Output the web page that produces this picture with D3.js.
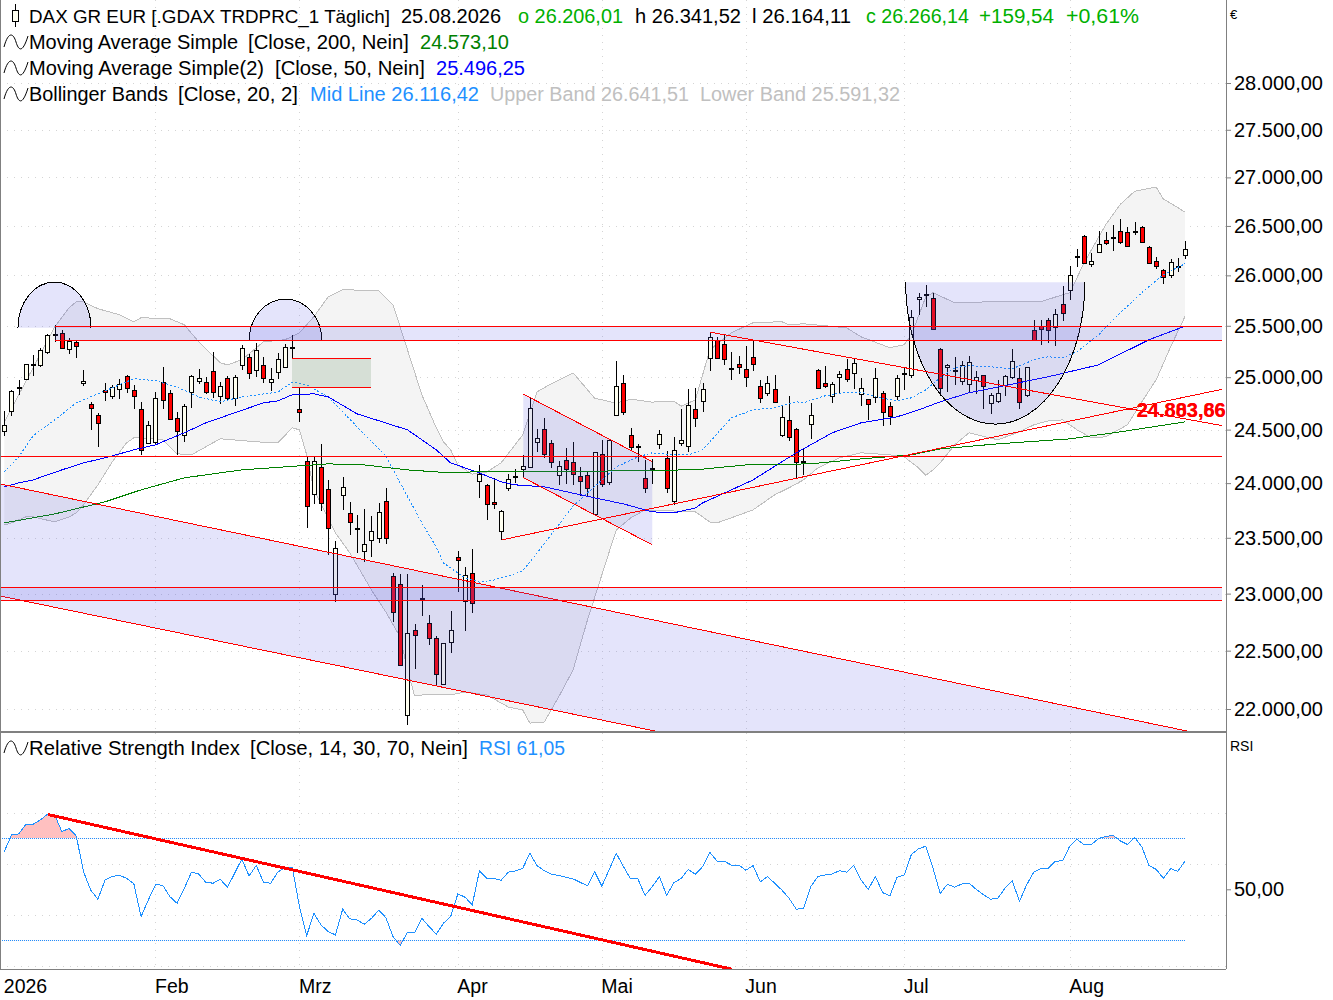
<!DOCTYPE html>
<html><head><meta charset="utf-8">
<script src="https://cdn.jsdelivr.net/npm/d3@7/dist/d3.min.js"></script>
<style>
html,body{margin:0;padding:0;background:#fff}
svg{display:block}
text{font-family:"Liberation Sans",Arial,sans-serif;fill:#000}
</style></head><body><svg id="c" width="1333" height="1000"></svg>
<script>
const opens=[24491,24680,24895,24987,25119,25122,25248,25405,25429,25272,
25340,24943,24742,24637,24876,24815,24886,25007,24876,24694,
24373,24388,24953,24847,24608,24448,24857,24962,24953,25058,
24819,24991,24799,25122,25194,25068,25117,24953,25049,25097,
25282,24694,24204,23898,24148,23944,22994,23889,23724,23577,
23378,23478,23496,23834,23154,23083,21947,22677,22953,22738,
22608,22210,22573,23324,22933,23181,24018,23981,23825,23559,
23954,24055,24130,24148,24382,24505,24373,24074,24213,24195,
24064,24074,23715,24270,24009,24637,24943,24448,24338,24046,
24139,24364,24232,23834,24373,24345,24694,24771,25184,25356,
25321,25084,25126,25078,25194,24914,24847,24886,24448,24589,
24505,24197,24552,25068,24943,24819,25001,25078,25039,24838,
24790,24809,24847,24722,24819,25030,25020,25760,25807,25774,
25272,25097,25068,24962,24934,24972,25020,24751,24771,24924,
25001,24991,24828,25458,25497,25556,25487,25714,25854,26191,
26399,26115,26236,26358,26382,26450,26439,26443,26491,26286,
26145,26054,26004,26091,26206.01];
const highs=[24675,24879,24975,25126,25214,25282,25419,25510,25458,25380,
25350,25071,24761,24656,24943,24924,24985,25020,24924,24764,
24583,24853,25097,24876,24665,24745,25020,25081,25001,25242,
24953,25016,25020,25314,25223,25331,25194,25087,25233,25321,
25409,24895,24241,24241,24364,24027,23469,24055,23825,23706,
23760,23696,23816,23954,23181,23172,23172,22729,23077,22808,
22625,22564,22844,23378,23238,23396,24169,23990,24046,23751,
24083,24130,24260,24799,24505,24608,24404,24204,24329,24382,
24148,24111,24288,24401,24411,25155,25020,24514,24364,24213,
24223,24495,24298,24429,24694,24886,24895,24943,25438,25392,
25405,25242,25204,25306,25356,24972,25010,25020,24732,24819,
24514,24326,24751,25078,25107,24953,25058,25175,25175,24991,
24790,25087,24867,24761,25020,25094,25658,25824,25907,25824,
25282,25129,25194,25155,25204,25058,25020,24847,24972,25020,
25272,25087,25097,25559,25556,25576,25665,25894,26094,26266,
26410,26225,26450,26439,26511,26572,26491,26542,26501,26297,
26185,26064,26165,26175,26341.52];
const lows=[24444,24633,24831,24975,25016,25103,25229,25340,25272,25229,
25187,24911,24501,24341,24767,24793,24786,24844,24699,24263,
24360,24366,24696,24595,24263,24388,24709,24930,24838,24805,
24745,24783,24728,25071,24978,24997,24943,24867,24985,25084,
25181,24573,23592,23812,23748,23342,22924,23757,23529,23366,
23285,23330,23457,23447,22752,22367,21862,22344,22805,22552,
22204,22204,22483,23017,22674,22831,23864,23665,23766,23478,
23932,24000,24046,24142,24285,24238,24145,23987,23993,23984,
23885,23876,23706,23968,23987,24637,24642,24298,24200,23913,
23993,24322,23913,23797,24345,24285,24523,24668,25055,25175,
25113,24968,25030,24901,25055,24757,24824,24751,24426,24397,
24046,24077,24416,24886,24898,24757,24838,24949,24891,24728,
24589,24757,24538,24547,24780,24876,24991,25608,25685,25461,
24821,24862,24927,24927,24853,24834,24694,24646,24751,24815,
24982,24694,24809,25360,25307,25336,25298,25546,25757,26084,
26125,26084,26225,26307,26246,26317,26286,26409,26338,26125,
26064,25914,25970,26034,26164.11];
const closes=[24542,24867,24905,25126,25126,25262,25409,25419,25282,25353,
25301,24962,24703,24561,24857,24905,24934,24895,24819,24310,
24542,24799,24780,24599,24486,24722,25010,24991,24857,24857,
24914,24799,25001,25282,25039,25262,24991,24982,25175,25292,
25292,24671,23788,24204,23816,23586,23405,23963,23641,23586,
23442,23559,23733,23496,22835,22373,22651,22634,22959,22608,
22297,22564,22677,23297,23163,22915,24083,23806,23806,23742,
24042,24064,24157,24703,24420,24270,24195,24157,24130,24083,
24018,23954,24288,23990,24401,24914,24665,24335,24345,23954,
24130,24454,23954,24307,24401,24732,24608,24886,25389,25184,
25175,25087,25103,24997,25126,24799,24943,24761,24618,24429,
24195,24204,24637,24895,24914,24934,25030,24982,25136,24895,
24742,24991,24665,24627,24991,25039,25586,25780,25817,25464,
24895,25117,25074,25117,25146,25001,24914,24828,24847,25010,
25155,24761,25097,25360,25468,25458,25615,25625,26004,26198,
26125,26145,26317,26327,26389,26338,26297,26450,26338,26125,
26094,25984,26135,26098,26266.14];
const rsiValues=[64.8,71.3,71.7,75.5,75.5,77.2,79.4,79.2,72.6,73.9,
70.9,56.9,49.7,46.1,53.7,55,55.5,54.3,52.1,39.3,
45.8,51.8,51.6,47.1,44.5,50.4,56.7,56,52.7,52.4,
53.9,50.8,56.3,61.9,55.2,59.4,52.7,52.4,56.8,58.5,
58.6,43.2,31.8,40.6,36,33.4,32.1,42.2,38.4,38,
36.3,38.6,41.8,38.9,31.4,28,33.1,33.1,38.6,35.4,
32.4,36.7,39.3,48.2,46.9,43.9,57.3,54.3,54.3,53.5,
56.7,57.2,58.2,64.1,59.3,57.3,55.9,55.4,54.7,54.1,
52.7,51.4,56.9,51.2,57.6,64.1,58.9,54.1,54.1,47.6,
51,55,47.6,52.6,54.2,57.8,55.9,58.9,64.5,61.1,
61,59.5,59.5,57.5,59.3,52.9,55,52.4,49.7,46.5,
42.2,42.5,51,55,55.6,56,57.3,56.7,59.4,53.7,
50,55,48.7,47.4,54.7,55.6,63.7,65.9,66.9,58.2,
48.4,52,50.8,52.1,52.4,50,47.9,46.1,46.5,50.4,
53.4,45.3,51.7,56.8,58.2,58.2,61,61.2,67,69.6,
67.4,67.6,69.9,70.7,71.2,69,67.6,70.4,66.7,59.3,
57.8,54.3,58.1,57.1,61.05];
const upperBand=[[0,24573],[2,24831],[4,25090],[7,25490],[9,25677],[10,25737],[11,25737],[13,25668],[16,25609],[18,25539],[19,25579],[23,25569],[25,25510],[27,25343],[30,25139],[31,25119],[33,25168],[36,25343],[39,25363],[41,25432],[43,25589],[45,25787],[47,25857],[52,25847],[54,25707],[56,25265],[58,24831],[60,24517],[61,24385],[62,24310],[63,24169],[65,24083],[67,24102],[69,24188],[72,24450],[74,24860],[76,24937],[79,25042],[82,24799],[85,24751],[87,24789],[90,24761],[93,24771],[94,24722],[96,24783],[98,25265],[101,25432],[104,25530],[108,25540],[109,25510],[111,25520],[117,25480],[119,25392],[123,25285],[125,25314],[126,25412],[128,25787],[129,25827],[132,25727],[137,25737],[144,25737],[147,25807],[148,25827],[150,26128],[153,26514],[155,26720],[157,26856],[160,26900],[161,26775],[162,26733],[164,26641.51]];
const lowerBand=[[0,23616],[1,23635],[3,23690],[4,23690],[7,23644],[9,23690],[10,23727],[11,23800],[13,23984],[15,24198],[17,24376],[18,24423],[19,24423],[22,24404],[24,24273],[26,24263],[30,24414],[35,24385],[38,24376],[40,24517],[41,24498],[42,24263],[43,23938],[46,23544],[48,23363],[51,23032],[53,22837],[55,22618],[56,22333],[57,22111],[58,22119],[62,22119],[64,22145],[67,22119],[70,22017],[72,21992],[73,21881],[75,21890],[77,22102],[79,22333],[81,22767],[83,23166],[85,23571],[87,23680],[89,23754],[96,23736],[98,23644],[99,23635],[102,23706],[104,23754],[107,23892],[109,23957],[111,24030],[113,24141],[116,24235],[119,24282],[123,24263],[125,24244],[127,24141],[128,24074],[129,24123],[130,24188],[132,24357],[134,24470],[138,24404],[141,24479],[143,24545],[145,24583],[147,24592],[149,24498],[151,24423],[153,24432],[156,24545],[158,24764],[160,24975],[162,25294],[164,25591.32]];
const midBand=[[0,24104],[2,24244],[4,24442],[7,24592],[10,24754],[13,24840],[18,24985],[21,24966],[24,24905],[27,24811],[30,24764],[33,24811],[38,24857],[40,24953],[42,24924],[45,24811],[49,24526],[53,24254],[55,24000],[58,23635],[60,23417],[61,23274],[64,23139],[66,23103],[68,23121],[70,23157],[72,23202],[74,23363],[79,23788],[85,24151],[88,24244],[90,24282],[93,24263],[95,24263],[97,24310],[101,24611],[104,24687],[107,24706],[110,24764],[111,24754],[114,24821],[117,24857],[119,24857],[121,24811],[124,24773],[126,24802],[128,24879],[130,24994],[132,25090],[134,25110],[137,25100],[140,25081],[143,25168],[145,25197],[147,25187],[149,25246],[152,25412],[155,25628],[158,25827],[161,26007],[164,26116.42]];
const sma50=[[0,23966],[2,24002],[4,24030],[8,24123],[11,24188],[14,24235],[18,24310],[21,24357],[25,24470],[28,24564],[32,24659],[36,24754],[38,24773],[40,24831],[43,24840],[45,24811],[49,24649],[56,24498],[60,24310],[62,24188],[66,24095],[69,24012],[71,23984],[75,23966],[82,23864],[86,23809],[90,23736],[93,23727],[96,23772],[97,23818],[101,23938],[104,24030],[110,24282],[115,24470],[119,24564],[124,24621],[127,24687],[130,24764],[134,24850],[138,24905],[145,25004],[152,25119],[159,25363],[164,25496.25]];
const sma200=[[0,23635],[7,23717],[14,23828],[19,23938],[25,24049],[33,24123],[39,24151],[45,24179],[50,24169],[56,24123],[60,24104],[62,24095],[65,24104],[85,24113],[90,24113],[97,24130],[103,24169],[112,24179],[119,24225],[126,24263],[130,24319],[138,24366],[148,24413],[155,24479],[164,24573.10]];
const priceTicks=[22000,22500,23000,23500,24000,24500,25000,25500,26000,26500,27000,27500,28000];
const monthIdx=[0,21,41,63,83,103,125,148];
const monthLabels=["2026","Feb","Mrz","Apr","Mai","Jun","Jul","Aug"];
const channelTop=[[-0.6,23993],[164.3,21814]];
const channelBottom=[[-0.6,22979],[90.4,21814]];
const bandTop=[[7,25495],[169.2,25360]];
const bandBottom=[[-0.6,23056],[169.2,22941]];
const hLine=[[-0.6,24250],[169.2,24250]];
const greenBox=[[40,25185],[51,24905]];
const wedgeTop=[[72.08,24838],[90,24200]];
const wedgeBottom=[[72.08,24051],[90,23437]];
const support=[[69.08,23481],[169.13,24883]];
const resistance=[[98,25438],[169.13,24538]];
const arcs=[[1.9,12.04,25480,25932],[34.03,44.08,25360,25764]];
const cup=[125.2,150.1,25932,24552];
const rsiTrend=[[6.1,79.3],[101,18.7]];
const labelDash=[[155.4,24687],[157.3,24687]];
const alertLabels=["24.803,86","24.883,66"];
const legendTexts=[
 ["DAX GR EUR [.GDAX TRDPRC_1 Täglich]","25.08.2026","o 26.206,01","h 26.341,52","l 26.164,11","c 26.266,14","+159,54","+0,61%"],
 ["Moving Average Simple","[Close, 200, Nein]","24.573,10"],
 ["Moving Average Simple(2)","[Close, 50, Nein]","25.496,25"],
 ["Bollinger Bands","[Close, 20, 2]","Mid Line 26.116,42","Upper Band 26.641,51","Lower Band 25.591,32"]];
const rsiTexts=["Relative Strength Index","[Close, 14, 30, 70, Nein]","RSI 61,05"];

// layout of the legend, kept apart from the text
const legendX=[[29,401,518,635,752,866,979,1066],[29,248,420],[29,275,436],[29,178,310,490,700]];
const legendW=[[361,100,105,106,99,103,75,73],[209,161,89],[235,150,89],[139,120,169,199,200]];
const legendFill=[["#000","#000","#00b000","#000","#000","#00b000","#00b000","#00b000"],["#000","#000","#008000"],["#000","#000","#0000ff"],["#000","#000","#1e90ff","#c0c0c0","#c0c0c0"]];
const legendBase=[23,49,75,101];
const rsiX=[29,250,479],rsiW=[211,218,86],rsiFill=["#000","#000","#1e90ff"];

const svg=d3.select("#c");
const x=d3.scaleLinear().domain([0,164]).range([4.3,1185]);
const y=d3.scaleLog().domain([22000,28000]).range([709,83]);
const r=d3.scaleLinear().domain([30,70]).range([940.3,838.3]);
const de=d3.formatLocale({decimal:",",thousands:".",grouping:[3],currency:["","€"]});
const fmt=de.format(",.2f");
const LAV="rgba(90,90,230,0.16)";
const defs=svg.append("defs");
defs.append("clipPath").attr("id","pc").append("rect").attr("x",0).attr("y",0).attr("width",1226).attr("height",731);
defs.append("clipPath").attr("id","rc").append("rect").attr("x",0).attr("y",733).attr("width",1226).attr("height",236);
const P=svg.append("g").attr("clip-path","url(#pc)");
const R=svg.append("g").attr("clip-path","url(#rc)");
const crisp=s=>s.attr("shape-rendering","crispEdges");
const dot={stroke:"#d4d4d4","stroke-dasharray":"1 6"};
function sty(s,o){for(const k in o)s.attr(k,o[k]);return s;}

// grid
priceTicks.forEach(t=>crisp(sty(P.append("line").attr("x1",0).attr("x2",1226).attr("y1",Math.round(y(t))+.5).attr("y2",Math.round(y(t))+.5),dot)));
monthIdx.slice(1).forEach(m=>{
 crisp(sty(P.append("line").attr("x1",Math.round(x(m))+.5).attr("x2",Math.round(x(m))+.5).attr("y1",0).attr("y2",731),dot));
 crisp(sty(R.append("line").attr("x1",Math.round(x(m))+.5).attr("x2",Math.round(x(m))+.5).attr("y1",733).attr("y2",969),dot));
});
[20,40,60,80].forEach(t=>crisp(sty(R.append("line").attr("x1",0).attr("x2",1226).attr("y1",Math.round(r(t))+.5).attr("y2",Math.round(r(t))+.5),dot)));

// Bollinger
const line=d3.line().x(d=>x(d[0])).y(d=>y(d[1]));
P.append("path").attr("d","M"+upperBand.map(d=>x(d[0])+","+y(d[1])).join("L")+"L"+lowerBand.slice().reverse().map(d=>x(d[0])+","+y(d[1])).join("L")+"Z").attr("fill","#f4f4f4");
[upperBand,lowerBand].forEach(b=>crisp(P.append("path").attr("d",line(b)).attr("fill","none").attr("stroke","#c0c0c0")));

// candles
const idx=d3.range(opens.length);
const cg=P.append("g").attr("shape-rendering","crispEdges");
idx.forEach(i=>{
 const cx=Math.round(x(i))+.5;
 cg.append("line").attr("x1",cx).attr("x2",cx).attr("y1",Math.round(y(highs[i]))).attr("y2",Math.round(y(lows[i]))).attr("stroke","#000");
 const t=Math.round(y(Math.max(opens[i],closes[i])))+.5, b=Math.round(y(Math.min(opens[i],closes[i])))+.5;
 cg.append("rect").attr("x",cx-2).attr("y",t).attr("width",4).attr("height",Math.max(b-t,1))
   .attr("fill",closes[i]>=opens[i]?"#fffff0":"#ff0000").attr("stroke","#000");
});

// moving averages
crisp(P.append("path").attr("d",line(midBand)).attr("fill","none").attr("stroke","#1e90ff").attr("stroke-dasharray","2 2"));
crisp(P.append("path").attr("d",line(sma50)).attr("fill","none").attr("stroke","#0000ff"));
crisp(P.append("path").attr("d",line(sma200)).attr("fill","none").attr("stroke","#008000"));

// drawing tools
const poly=a=>"M"+a.map(d=>x(d[0])+","+y(d[1])).join("L")+"Z";
const redline=a=>crisp(P.append("path").attr("d",line(a)).attr("fill","none").attr("stroke","#ff0000"));
const row=v=>Math.floor(y(v));
const hRed=(v,a,b)=>crisp(P.append("line").attr("x1",x(a)).attr("x2",x(b)).attr("y1",row(v)+.5).attr("y2",row(v)+.5).attr("stroke","#ff0000"));
P.append("path").attr("d",poly([channelTop[0],channelTop[1],channelBottom[1],channelBottom[0]])).attr("fill",LAV);
redline(channelTop);redline(channelBottom);
P.append("path").attr("d",poly([wedgeTop[0],wedgeTop[1],wedgeBottom[1],wedgeBottom[0]])).attr("fill",LAV);
redline(wedgeTop);redline(wedgeBottom);
arcs.forEach(a=>{
 const x0=x(a[0]),x1=x(a[1]),yb=y(a[2]),yt=y(a[3]);
 const d=`M${x0},${yb}A${(x1-x0)/2},${yb-yt} 0 0 1 ${x1},${yb}`;
 P.append("path").attr("d",d+"Z").attr("fill",LAV);
 crisp(P.append("path").attr("d",d).attr("fill","none").attr("stroke","#000"));
});
{
 const x0=x(cup[0]),x1=x(cup[1]),yt=y(cup[2]),yb=y(cup[3]);
 const d=`M${x0},${yt}A${(x1-x0)/2},${yb-yt} 0 0 0 ${x1},${yt}`;
 P.append("path").attr("d",d+"Z").attr("fill",LAV);
 crisp(P.append("path").attr("d",d).attr("fill","none").attr("stroke","#000"));
}
[bandTop,bandBottom].forEach(b=>{
 crisp(P.append("rect").attr("x",x(b[0][0])).attr("width",x(b[1][0])-x(b[0][0])).attr("y",row(b[0][1])).attr("height",row(b[1][1])-row(b[0][1])).attr("fill",LAV));
 hRed(b[0][1],b[0][0],b[1][0]);hRed(b[1][1],b[0][0],b[1][0]);
});
crisp(P.append("rect").attr("x",x(greenBox[0][0])).attr("width",x(greenBox[1][0])-x(greenBox[0][0])).attr("y",row(greenBox[0][1])).attr("height",row(greenBox[1][1])-row(greenBox[0][1])).attr("fill","rgba(120,160,120,0.24)"));
hRed(greenBox[0][1],greenBox[0][0],greenBox[1][0]);hRed(greenBox[1][1],greenBox[0][0],greenBox[1][0]);
hRed(hLine[0][1],hLine[0][0],hLine[1][0]);redline(support);redline(resistance);hRed(labelDash[0][1],labelDash[0][0],labelDash[1][0]);
alertLabels.forEach(t=>P.append("text").attr("x",x(labelDash[1][0])).attr("y",y(labelDash[1][1])+7).attr("font-size",20).attr("font-weight","bold").style("fill","#ff0000").text(t));

// RSI
const rl=d3.line().x((d,i)=>x(i)).y(d=>r(d));
defs.append("clipPath").attr("id","ob").append("rect").attr("x",0).attr("y",733).attr("width",1226).attr("height",r(70)-733);
defs.append("clipPath").attr("id","os").append("rect").attr("x",0).attr("y",r(30)).attr("width",1226).attr("height",969-r(30));
const ar=d3.area().x((d,i)=>x(i)).y1(d=>r(d));
R.append("path").attr("clip-path","url(#ob)").attr("d",ar.y0(r(70))(rsiValues)).attr("fill","#ffc0c0");
R.append("path").attr("clip-path","url(#os)").attr("d",ar.y0(r(30))(rsiValues)).attr("fill","#ffc0c0");
[30,70].forEach(v=>crisp(R.append("line").attr("x1",0).attr("x2",x(164)).attr("y1",Math.floor(r(v))+.5).attr("y2",Math.floor(r(v))+.5).attr("stroke","#1e90ff").attr("stroke-dasharray","1 1")));
crisp(R.append("path").attr("d",rl(rsiValues)).attr("fill","none").attr("stroke","#1e90ff"));
crisp(R.append("line").attr("x1",x(rsiTrend[0][0])).attr("y1",r(rsiTrend[0][1])).attr("x2",x(rsiTrend[1][0])).attr("y2",r(rsiTrend[1][1])).attr("stroke","#ff0000").attr("stroke-width",3));

// frame
const frame=(a,b,c,d,w)=>crisp(svg.append("line").attr("x1",a).attr("y1",b).attr("x2",c).attr("y2",d).attr("stroke","#808080").attr("stroke-width",w||1));
frame(1226.5,0,1226.5,969);frame(0.5,0,0.5,969);frame(0,732,1226,732,2);frame(0,969.5,1226,969.5);

// axes
const ya=svg.append("g").attr("transform","translate(1227,0)").call(d3.axisRight(y).tickValues(priceTicks).tickFormat(fmt).tickSize(4).tickPadding(3));
const ra=svg.append("g").attr("transform","translate(1227,0)").call(d3.axisRight(r).tickValues([50]).tickFormat(fmt).tickSize(4).tickPadding(3));
const xa=svg.append("g").attr("transform","translate(-1,970)").call(d3.axisBottom(x).tickValues(monthIdx).tickFormat((d,i)=>monthLabels[i]).tickSize(0).tickPadding(9));
[ya,ra,xa].forEach(a=>{a.select(".domain").remove();a.selectAll("text").attr("font-size",20).style("font-family",'"Liberation Sans",Arial,sans-serif');a.selectAll("line").attr("stroke","#808080");});
xa.selectAll("text").attr("text-anchor","start").attr("font-size",19.5);
xa.attr("font-family",null);ya.attr("font-family",null);ra.attr("font-family",null);
svg.append("text").attr("x",1230).attr("y",19).attr("font-size",13).text("€");
svg.append("text").attr("x",1230).attr("y",751).attr("font-size",14).text("RSI");

// legend
function wave(yc){svg.append("path").attr("d",`M4 ${yc+5}C8 ${yc-10} 13 ${yc-10} 16 ${yc}S23 ${yc+10} 28 ${yc-6}`).attr("fill","none").attr("stroke","#000");}
function put(t,xx,yy,w,f,fs){svg.append("text").attr("x",xx).attr("y",yy).attr("font-size",fs||20).attr("textLength",w).attr("lengthAdjust","spacingAndGlyphs").style("fill",f).text(t);}
legendTexts.forEach((l,i)=>{
 l.forEach((t,j)=>put(t,legendX[i][j],legendBase[i],legendW[i][j],legendFill[i][j],(i===0&&j===0)?19:20));
 if(i>0)wave(legendBase[i]-7);
});
rsiTexts.forEach((t,j)=>put(t,rsiX[j],755,rsiW[j],rsiFill[j]));
wave(748);
crisp(svg.append("line").attr("x1",15.5).attr("x2",15.5).attr("y1",4).attr("y2",27).attr("stroke","#000"));
crisp(svg.append("rect").attr("x",12.5).attr("y",10.5).attr("width",6).attr("height",11).attr("fill","#fffff0").attr("stroke","#000"));
</script></body></html>
